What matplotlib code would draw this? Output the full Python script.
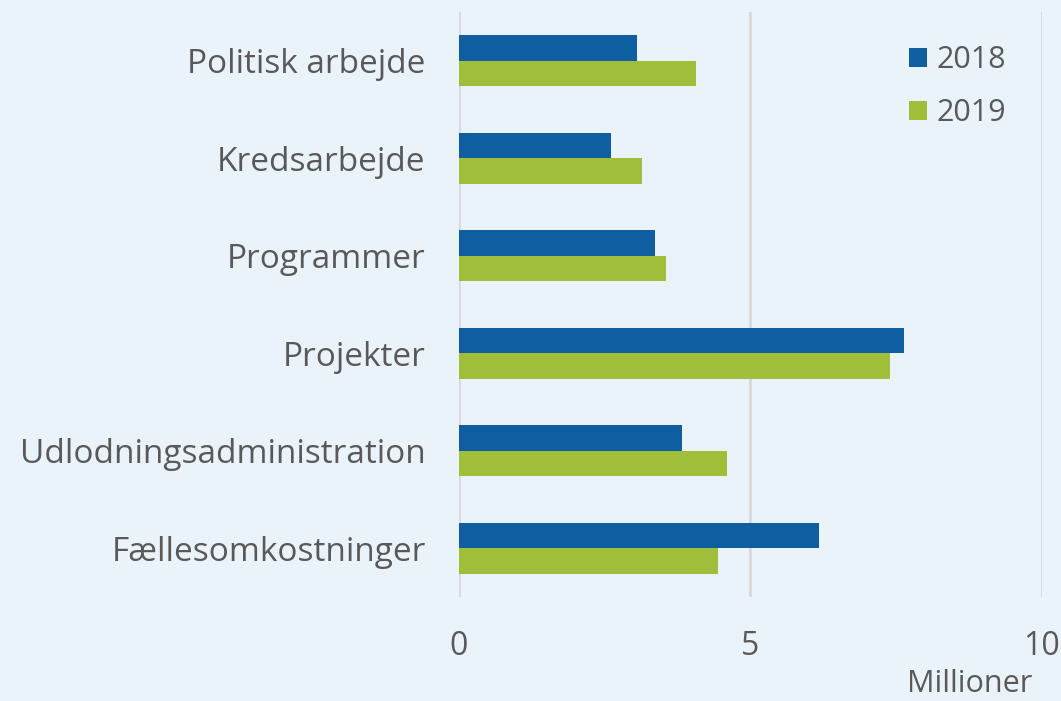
import numpy as np
import matplotlib.pyplot as plt

# categories and values (millioner kr.)
categories = ['Politisk arbejde', 'Kredsarbejde', 'Programmer', 'Projekter',
              'Udlodningsadministration', 'Fællesomkostninger']
v2018 = [3.05, 2.61, 3.36, 7.63, 3.83, 6.17]
v2019 = [4.07, 3.14, 3.55, 7.39, 4.60, 4.45]
years = ['2018', '2019']

bg = '#EBF3FA'
blue = '#0F5EA1'
green = '#A0BE3A'
txt = '#595959'

plt.rcParams['font.family'] = ['Open Sans', 'DejaVu Sans']

fig = plt.figure(figsize=(10.61, 7.01), dpi=100, facecolor=bg)
ax = fig.add_axes([0.4326, 0.1484, 0.5494, 0.8346], facecolor=bg)

y = np.arange(len(categories))
h = 0.26
ax.barh(y - h/2, v2018, height=h, color=blue, label=years[0], zorder=3)
ax.barh(y + h/2, v2019, height=h, color=green, label=years[1], zorder=3)

ax.set_xlim(0, 10)
ax.set_ylim(len(categories) - 0.5, -0.5)
ax.set_xticks([0, 5, 10])
ax.set_yticks(y)
ax.set_yticklabels(categories)
ax.grid(axis='x', color='#D9D9D9', linewidth=2, zorder=0)
for s in ax.spines.values():
    s.set_visible(False)
ax.tick_params(axis='x', length=0, pad=24, labelsize=23, labelcolor=txt)
ax.tick_params(axis='y', length=0, pad=24, labelsize=24, labelcolor=txt)

leg = ax.legend(loc='upper right', bbox_to_anchor=(0.986, 0.99), frameon=False,
                fontsize=22, handlelength=0.62, handleheight=0.62,
                handletextpad=0.3, labelspacing=0.75, labelcolor=txt)

fig.text(0.973, 0.003, 'Millioner', ha='right', va='bottom', fontsize=22, color=txt)

fig.savefig('out.png', dpi=100, facecolor=bg)
